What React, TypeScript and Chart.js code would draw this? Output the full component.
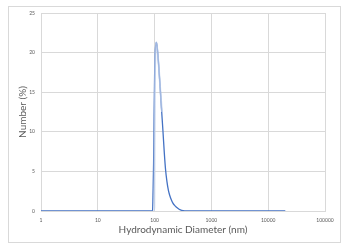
import React, { useEffect, useRef } from "react";
import { Chart, registerables } from "chart.js";

Chart.register(...registerables);

const sizesNm = [1, 5, 20, 60, 92, 94, 96, 98, 100, 102, 105, 108, 112, 118, 125, 132, 140, 148, 156, 165, 175, 185, 196, 210, 225, 240, 270, 300, 350, 420, 600, 1000, 3000, 10000, 20000];
const numberPct = [0, 0, 0, 0, 0, 2.5, 6, 12, 17, 19.8, 21, 21.3, 20.4, 18.4, 15.7, 13.0, 10.2, 7.4, 5.2, 3.7, 2.6, 1.95, 1.45, 1.0, 0.7, 0.5, 0.22, 0.08, 0.02, 0, 0, 0, 0, 0, 0];

const haloSizesNm = [97, 99, 100, 101.5, 104, 107, 111, 118, 127, 135];
const haloPct = [0, 0.5, 8, 16, 20.5, 21.3, 20.6, 18.4, 15, 12.5];

const xTicks = [1, 10, 100, 1000, 10000, 100000];
const yTicks = [0, 5, 10, 15, 20, 25];

const framePlugin = {
  id: "frame",
  beforeDraw(chart: any) {
    const ctx = chart.ctx;
    ctx.save();
    ctx.fillStyle = "#ffffff";
    ctx.fillRect(0, 0, chart.width, chart.height);
    ctx.strokeStyle = "#D9D9D9";
    ctx.lineWidth = 1;
    ctx.strokeRect(8.5, 6.5, 332, 236);
    ctx.restore();
  },
};

export default function App() {
  const ref = useRef<HTMLCanvasElement | null>(null);
  useEffect(() => {
    if (!ref.current) return;
    const chart = new Chart(ref.current, {
      type: "line",
      data: {
        datasets: [
          {
            label: "halo",
            data: haloSizesNm.map((x, i) => ({ x, y: haloPct[i] })),
            borderColor: "rgba(190,206,234,0.75)",
            borderWidth: 1.8,
            pointRadius: 0,
            cubicInterpolationMode: "monotone",
          },
          {
            label: "Number",
            data: sizesNm.map((x, i) => ({ x, y: numberPct[i] })),
            borderColor: "#4472C4",
            borderWidth: 1.3,
            pointRadius: 0,
            cubicInterpolationMode: "monotone",
          },
        ],
      },
      options: {
        responsive: false,
        animation: false,
        devicePixelRatio: 1,
        layout: { padding: { left: 0, right: 23, top: 13, bottom: 0 } },
        plugins: { legend: { display: false }, tooltip: { enabled: false } },
        scales: {
          x: {
            type: "logarithmic",
            min: 1,
            max: 100000,
            afterBuildTicks: (s: any) => {
              s.ticks = xTicks.map((v) => ({ value: v }));
            },
            afterFit: (s: any) => {
              s.height = 35;
            },
            grid: { color: "#D9D9D9", drawTicks: false, lineWidth: 1 },
            border: { color: "#D9D9D9" },
            ticks: {
              autoSkip: false,
              maxRotation: 0,
              padding: 6,
              color: "#595959",
              font: { family: "Lato", size: 5 },
              callback: (v: any) => String(v),
            },
            title: {
              display: true,
              text: "Hydrodynamic Diameter (nm)",
              color: "#595959",
              font: { family: "Lato", size: 10 },
              padding: { top: 0, bottom: 10 },
            },
          },
          y: {
            min: 0,
            max: 25,
            afterBuildTicks: (s: any) => {
              s.ticks = yTicks.map((v) => ({ value: v }));
            },
            afterFit: (s: any) => {
              s.width = 41;
            },
            grid: { color: "#D9D9D9", drawTicks: false, lineWidth: 1 },
            border: { color: "#D9D9D9" },
            ticks: {
              padding: 6,
              color: "#595959",
              font: { family: "Lato", size: 5 },
            },
            title: {
              display: true,
              text: "Number (%)",
              color: "#595959",
              font: { family: "Lato", size: 10 },
              padding: { top: 16.7, bottom: 0 },
            },
          },
        },
      },
      plugins: [framePlugin],
    });
    return () => chart.destroy();
  }, []);
  return (
    <div style={{ position: "absolute", left: 0, top: 0, width: 348, height: 246 }}>
      <canvas ref={ref} width={348} height={246} style={{ width: 348, height: 246 }} />
    </div>
  );
}
